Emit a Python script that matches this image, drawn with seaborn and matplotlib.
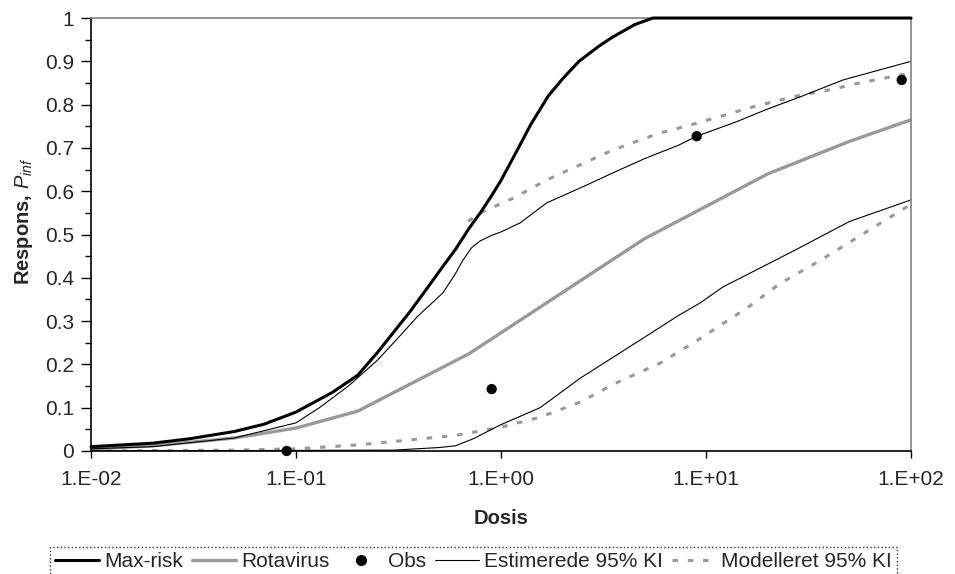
import numpy as np
import pandas as pd
import seaborn as sns
import matplotlib.pyplot as plt
from matplotlib.ticker import FixedLocator, MultipleLocator, FuncFormatter

# Max-risk curve
maxrisk_dose = [0.01, 0.02, 0.03, 0.05, 0.07, 0.1, 0.15, 0.2, 0.25, 0.3, 0.36, 0.43, 0.5, 0.6, 0.7,
                0.8, 0.9, 1.0, 1.2, 1.4, 1.7, 2.0, 2.4, 3.0, 3.5, 4.5, 5.5, 10, 100]
maxrisk_p = [0.01, 0.018, 0.028, 0.045, 0.062, 0.09, 0.135, 0.175, 0.228, 0.275, 0.322, 0.372, 0.415, 0.466, 0.515,
             0.553, 0.59, 0.625, 0.695, 0.755, 0.82, 0.86, 0.90, 0.935, 0.956, 0.985, 1.0, 1.0, 1.0]

# Rotavirus
rota_dose = [0.01, 0.02, 0.05, 0.1, 0.2, 0.7, 5, 20, 50, 100]
rota_p = [0.005, 0.012, 0.03, 0.053, 0.092, 0.225, 0.49, 0.64, 0.715, 0.765]

# observations
obs_dose = [0.09, 0.9, 9, 90]
obs_p = [0.0, 0.143, 0.727, 0.857]

# Estimerede 95% KI (upper / lower)
est_up_dose = [0.01, 0.02, 0.05, 0.1, 0.13, 0.18, 0.25, 0.32, 0.39, 0.52, 0.6, 0.65, 0.72, 0.79, 0.9, 1.0,
               1.24, 1.67, 2.5, 3.5, 5, 7.4, 9, 14, 20, 28.8, 46.6, 70, 100]
est_up_p = [0.005, 0.01, 0.03, 0.065, 0.1, 0.15, 0.21, 0.265, 0.31, 0.365, 0.41, 0.44, 0.47, 0.485, 0.498,
            0.506, 0.527, 0.573, 0.61, 0.642, 0.675, 0.707, 0.727, 0.76, 0.79, 0.818, 0.857, 0.88, 0.90]
est_lo_dose = [0.01, 0.3, 0.5, 0.6, 0.73, 0.99, 1.55, 2.43, 4.76, 7.4, 9.36, 12.1, 27.2, 50, 100]
est_lo_p = [0.0, 0.002, 0.008, 0.012, 0.028, 0.06, 0.10, 0.168, 0.256, 0.314, 0.342, 0.379, 0.464, 0.53, 0.58]

# Modelleret 95% KI (upper / lower)
mod_up_dose = [0.69, 0.79, 1.15, 1.67, 3.5, 5.9, 7.4, 9, 17, 28.8, 40, 56, 100]
mod_up_p = [0.53, 0.55, 0.584, 0.626, 0.695, 0.734, 0.746, 0.757, 0.795, 0.822, 0.834, 0.85, 0.873]
mod_lo_dose = [0.01, 0.05, 0.1, 0.2, 0.35, 0.6, 1.0, 1.55, 2.43, 3.6, 5.97, 9.4, 11.7, 15.8, 23, 36, 100]
mod_lo_p = [0.0, 0.002, 0.005, 0.014, 0.025, 0.036, 0.055, 0.078, 0.113, 0.156, 0.203, 0.26, 0.29, 0.33,
            0.387, 0.44, 0.57]

sns.set_style("ticks")
plt.rcParams['font.family'] = ['Liberation Sans', 'DejaVu Sans']
plt.rcParams['mathtext.fontset'] = 'custom'
plt.rcParams['mathtext.it'] = 'Liberation Sans:italic'
plt.rcParams['mathtext.rm'] = 'Liberation Sans'

fig = plt.figure(figsize=(9.55, 5.74), dpi=100)
ax = fig.add_axes([0.0953, 0.2143, 0.8587, 0.7543])

grey = '#999999'
dash = (0, (1.8, 3.2))

sns.lineplot(x=mod_up_dose, y=mod_up_p, ax=ax, color=grey, linewidth=2.2, linestyle=dash,
             estimator=None, sort=False)
sns.lineplot(x=mod_lo_dose, y=mod_lo_p, ax=ax, color=grey, linewidth=2.2, linestyle=dash,
             estimator=None, sort=False)
sns.lineplot(x=rota_dose, y=rota_p, ax=ax, color=grey, linewidth=2.4, estimator=None, sort=False)
sns.lineplot(x=est_up_dose, y=est_up_p, ax=ax, color='black', linewidth=0.8, estimator=None, sort=False)
sns.lineplot(x=est_lo_dose, y=est_lo_p, ax=ax, color='black', linewidth=0.8, estimator=None, sort=False)
sns.lineplot(x=maxrisk_dose, y=maxrisk_p, ax=ax, color='black', linewidth=2.2,
             estimator=None, sort=False)
ax.lines[-1].set_clip_on(False)
ax.lines[-1].set_zorder(5)
sns.scatterplot(x=obs_dose, y=obs_p, ax=ax, color='black', s=55, edgecolor='none', zorder=6, clip_on=False)

ax.set_xscale('log')
ax.set_xlim(0.01, 100)
ax.set_ylim(0, 1)

ax.xaxis.set_major_locator(FixedLocator([0.01, 0.1, 1, 10, 100]))
ax.xaxis.set_minor_locator(FixedLocator([]))
ax.xaxis.set_major_formatter(FuncFormatter(lambda v, p: "1.E{:+03d}".format(int(round(np.log10(v))))))
ax.yaxis.set_major_locator(MultipleLocator(0.1))
ax.yaxis.set_minor_locator(MultipleLocator(0.05))
ax.yaxis.set_major_formatter(FuncFormatter(lambda v, p: "{:g}".format(round(v, 1))))

ax.tick_params(axis='x', which='major', labelsize=15, length=5, width=1, color='black', pad=9)
ax.tick_params(axis='y', which='major', labelsize=15, length=7, width=1, color='black', pad=5)
ax.tick_params(axis='y', which='minor', length=4, width=1, color='black')

for s in ['left', 'bottom']:
    ax.spines[s].set_color('black')
    ax.spines[s].set_linewidth(1.2)
for s in ['top', 'right']:
    ax.spines[s].set_color('#808080')
    ax.spines[s].set_linewidth(1.2)
    ax.spines[s].set_visible(True)

ax.set_xlabel('Dosis', fontsize=14.5, fontweight='bold')
ax.set_ylabel(r'Respons, $P_{inf}$', fontsize=14.5, fontweight='bold')
ax.xaxis.set_label_coords(0.5, -0.133)
ax.yaxis.set_label_coords(-0.068, 0.53)

h_max = plt.Line2D([], [], color='black', lw=2.2)
h_rota = plt.Line2D([], [], color=grey, lw=2.4)
h_obs = plt.Line2D([], [], color='black', marker='o', ms=7, ls='none')
h_est = plt.Line2D([], [], color='black', lw=0.8)
h_mod = plt.Line2D([], [], color=grey, lw=2.2, ls=dash)
leg = fig.legend([h_max, h_rota, h_obs, h_est, h_mod],
                 ['Max-risk', 'Rotavirus', 'Obs', 'Estimerede 95% KI', 'Modelleret 95% KI'],
                 loc='upper left', bbox_to_anchor=(0.052, 0.047), ncol=5, fontsize=15,
                 frameon=True, fancybox=False, handlelength=2.1, handletextpad=0.25,
                 columnspacing=0.45, borderpad=0.25, borderaxespad=0.0)
leg.get_frame().set_edgecolor('black')
leg.get_frame().set_linestyle(':')
leg.get_frame().set_linewidth(1.0)

plt.savefig('out.png', dpi=100)
